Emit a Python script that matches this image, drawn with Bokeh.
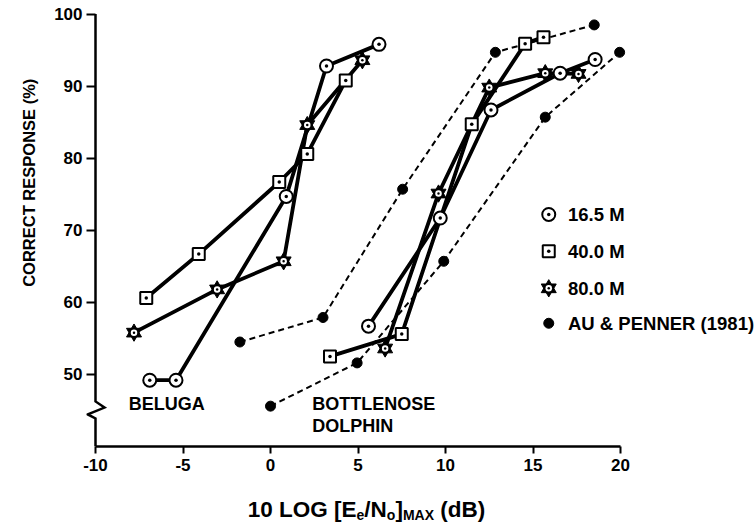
import math
from bokeh.plotting import figure
from bokeh.models import ColumnDataSource, FixedTicker, Range1d
from bokeh.layouts import column, row
from bokeh.core.properties import value
from bokeh.embed import file_html
from bokeh.resources import INLINE

# ---------------- data ----------------
x_ticks = [-10, -5, 0, 5, 10, 15, 20]
x_tick_labels = ["-10", "-5", "0", "5", "10", "15", "20"]
y_ticks = [50, 60, 70, 80, 90, 100]
y_tick_labels = ["50", "60", "70", "80", "90", "100"]

# Beluga
beluga_165_x = [-6.9, -5.4, 0.9, 3.2, 6.2]
beluga_165_y = [49.2, 49.2, 74.7, 92.8, 95.8]
beluga_40_x = [-7.1, -4.1, 0.5, 2.1, 4.3]
beluga_40_y = [60.6, 66.7, 76.7, 80.6, 90.8]
beluga_80_x = [-7.8, -3.05, 0.75, 2.1, 5.25]
beluga_80_y = [55.8, 61.8, 65.7, 84.6, 93.6]

# Bottlenose dolphin
dolphin_165_x = [5.6, 9.7, 12.6, 16.55, 18.55]
dolphin_165_y = [56.7, 71.7, 86.7, 91.8, 93.7]
dolphin_40_x = [3.4, 7.5, 11.5, 14.55, 15.6]
dolphin_40_y = [52.5, 55.6, 84.7, 95.9, 96.8]
dolphin_80_x = [6.55, 9.6, 12.5, 15.7, 17.6]
dolphin_80_y = [53.6, 75.1, 89.8, 91.8, 91.7]

# Au & Penner (1981)
au_upper_x = [-1.75, 3.0, 7.55, 12.85, 18.5]
au_upper_y = [54.5, 57.9, 75.7, 94.7, 98.5]
au_lower_x = [0.0, 4.95, 9.9, 15.7, 19.95]
au_lower_y = [45.6, 51.6, 65.7, 85.7, 94.7]

legend_labels = ["16.5 M", "40.0 M", "80.0 M", "AU & PENNER (1981)"]
species_labels = ["BELUGA", "BOTTLENOSE", "DOLPHIN"]
y_axis_title = "CORRECT RESPONSE (%)"
x_title_pieces = ["10 LOG [E", "e", "/N", "o", "]", "MAX", " (dB)"]

# ---------------- layout constants ----------------
FONT = "Liberation Sans"
PX_PER_X = 17.5
LEFT_W = 40            # strip holding the y title
MAIN_W = 755 - LEFT_W
MAIN_H = 486
BOTTOM_H = 526 - MAIN_H
FRAME_LEFT = 86        # canvas x of the main frame's left edge
AXIS_X = 95            # canvas x of the value -10
X0 = -10 - (AXIS_X - FRAME_LEFT) / PX_PER_X
X1 = 20 + (755 - 620) / PX_PER_X

# ---------------- main figure ----------------
p = figure(width=MAIN_W, height=MAIN_H, x_range=Range1d(X0, X1), y_range=Range1d(40, 100.5),
           output_backend="svg", toolbar_location=None, title=None,
           min_border_left=FRAME_LEFT - LEFT_W, min_border_right=0,
           min_border_top=10, min_border_bottom=MAIN_H - 446)
p.xgrid.visible = False
p.ygrid.visible = False
p.outline_line_color = None
p.background_fill_color = "white"
p.border_fill_color = "white"

for ax in (p.xaxis[0], p.yaxis[0]):
    ax.axis_line_color = "black"
    ax.axis_line_width = 2.5
    ax.major_tick_line_color = "black"
    ax.major_tick_line_width = 2
    ax.minor_tick_line_color = None
    ax.major_label_text_font = FONT
    ax.major_label_text_font_style = "bold"
    ax.major_label_text_font_size = "17px"
    ax.major_label_text_color = "black"

p.xaxis.ticker = FixedTicker(ticks=x_ticks)
p.xaxis.major_label_overrides = {t: s for t, s in zip(x_ticks, x_tick_labels)}
p.xaxis.bounds = (x_ticks[0], x_ticks[-1])
p.xaxis.major_tick_in = 0
p.xaxis.major_tick_out = 7
p.xaxis.major_label_standoff = 5
p.yaxis.ticker = FixedTicker(ticks=y_ticks)
p.yaxis.major_label_overrides = {t: s for t, s in zip(y_ticks, y_tick_labels)}
# the y axis sits at x = -10, a few pixels inside the frame: ticks reach it inward
p.yaxis.major_tick_out = 0
p.yaxis.major_tick_in = AXIS_X - FRAME_LEFT
p.yaxis.major_label_standoff = 4
p.yaxis.axis_line_color = None  # drawn below with its break

# y axis line with a break (zigzag)
zx = 9 / PX_PER_X
p.line([-10, -10, -10 + zx, -10 - zx * 0.85, -10, -10],
       [100, 46.25, 45.4, 44.45, 43.9, 40],
       line_color="black", line_width=2.5, line_join="miter")

# ---------------- lines ----------------
for xs, ys in [(au_upper_x, au_upper_y), (au_lower_x, au_lower_y)]:
    p.line(xs, ys, line_color="black", line_width=2, line_dash="6 4")

for xs, ys in [(beluga_165_x, beluga_165_y), (beluga_40_x, beluga_40_y), (beluga_80_x, beluga_80_y),
               (dolphin_165_x, dolphin_165_y), (dolphin_40_x, dolphin_40_y), (dolphin_80_x, dolphin_80_y)]:
    p.line(xs, ys, line_color="black", line_width=3.8, line_join="round")


# ---------------- markers ----------------
def open_marker(xs, ys, marker, size):
    src = ColumnDataSource(dict(x=xs, y=ys))
    p.scatter("x", "y", source=src, marker=marker, size=size, fill_color="white",
              line_color="black", line_width=2)
    p.scatter("x", "y", source=src, marker="circle", size=3.5, fill_color="black", line_color=None)


def star_marker(xs, ys):
    src = ColumnDataSource(dict(x=xs, y=ys))
    for m in ("triangle", "inverted_triangle"):
        p.scatter("x", "y", source=src, marker=m, size=15, fill_color="black",
                  line_color="black", line_width=1, line_join="miter")
    p.scatter("x", "y", source=src, marker="circle", size=6.5, fill_color="white", line_color=None)
    p.scatter("x", "y", source=src, marker="circle", size=2.5, fill_color="black", line_color=None)


def dot_marker(xs, ys):
    p.scatter(xs, ys, marker="circle", size=10, fill_color="black", line_color="black")


dot_marker(au_upper_x, au_upper_y)
dot_marker(au_lower_x, au_lower_y)
open_marker(beluga_165_x, beluga_165_y, "circle", 13)
open_marker(dolphin_165_x, dolphin_165_y, "circle", 13)
open_marker(beluga_40_x, beluga_40_y, "square", 12)
open_marker(dolphin_40_x, dolphin_40_y, "square", 12)
star_marker(beluga_80_x, beluga_80_y)
star_marker(dolphin_80_x, dolphin_80_y)

# ---------------- legend (hand-drawn) ----------------
LEG_X = 15.9
LEG_TX = 17.0
LEG_Y = [72.2, 67.1, 61.95, 57.1]
open_marker([LEG_X], [LEG_Y[0]], "circle", 13)
open_marker([LEG_X], [LEG_Y[1]], "square", 12)
star_marker([LEG_X], [LEG_Y[2]])
dot_marker([LEG_X], [LEG_Y[3]])
p.text(x=[LEG_TX] * len(legend_labels), y=LEG_Y, text=legend_labels,
       text_font=value(FONT), text_font_style="bold", text_font_size=value("18.5px"),
       text_baseline="middle", text_align="left", text_color="black")

# ---------------- species annotations ----------------
p.text(x=[-8.1, 2.38, 2.38], y=[45.83, 45.83, 42.8], text=species_labels,
       text_font=value(FONT), text_font_style="bold", text_font_size=value("18px"),
       text_baseline="middle", text_align="left", text_color="black")


def strip(width, height, x_range, y_range):
    f = figure(width=width, height=height, x_range=x_range, y_range=y_range,
               output_backend="svg", toolbar_location=None, title=None,
               x_axis_location=None, y_axis_location=None,
               min_border=0, min_border_left=0, min_border_right=0,
               min_border_top=0, min_border_bottom=0)
    f.xgrid.visible = False
    f.ygrid.visible = False
    f.outline_line_color = None
    return f


# ---------------- y title strip ----------------
left = strip(LEFT_W, MAIN_H, Range1d(0, LEFT_W), Range1d(MAIN_H, 0))
left.text(x=[28], y=[192], text=[y_axis_title], angle=math.pi / 2,
          text_font=value(FONT), text_font_style="bold", text_font_size=value("16.5px"),
          text_align="center", text_baseline="middle", text_color="black")

# ---------------- x title strip ----------------
bottom = strip(755, BOTTOM_H, Range1d(0, 755), Range1d(526, MAIN_H))
W = {'0': 556, '1': 556, ' ': 278, 'L': 611, 'O': 778, 'G': 778, '[': 333, 'E': 667, 'e': 556,
     '/': 278, 'N': 722, 'o': 611, ']': 333, 'M': 833, 'A': 722, 'X': 667, '(': 333, 'd': 611,
     'B': 722, ')': 333}
MAIN_FS, SUB_FS = 22.5, 14
is_sub = [False, True, False, True, False, True, False]
sizes = [SUB_FS if s else MAIN_FS for s in is_sub]
widths = [sum(W[c] for c in t) / 1000 * fs for t, fs in zip(x_title_pieces, sizes)]
xpos = 366 - sum(widths) / 2
for t, fs, w, s in zip(x_title_pieces, sizes, widths, is_sub):
    lead = (len(t) - len(t.lstrip(" "))) * W[' '] / 1000 * fs   # SVG drops leading blanks
    bottom.text(x=[xpos + lead], y=[514 if s else 509], text=[t.lstrip(" ")],
                text_font=value(FONT), text_font_style="bold", text_font_size=value(f"{fs}px"),
                text_align="left", text_baseline="alphabetic", text_color="black")
    xpos += w

layout = column(row(left, p), bottom)
open("out.html", "w").write(file_html(layout, INLINE))
